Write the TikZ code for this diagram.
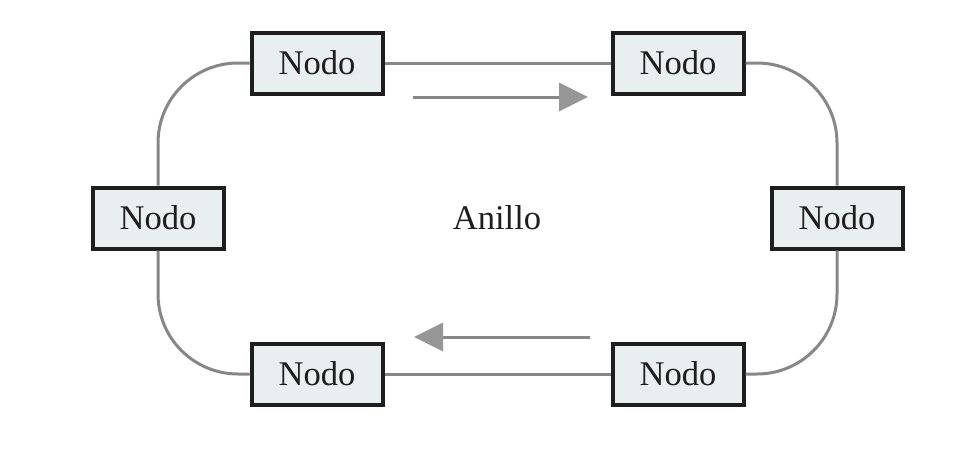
\documentclass[tikz,border=0pt]{standalone}
\usepackage{fontspec}
\setmainfont{Liberation Serif}
\usetikzlibrary{arrows.meta}
\definecolor{boxfill}{RGB}{233,238,240}
\definecolor{ringgray}{RGB}{135,135,135}
\definecolor{headgray}{RGB}{150,150,150}
\definecolor{inkblack}{RGB}{30,30,30}
\begin{document}
\begin{tikzpicture}[x=1pt,y=-1pt,
  nodebox/.style={draw=inkblack, line width=4pt, fill=boxfill,
    minimum width=131pt, minimum height=61pt, inner sep=0pt,
    text=inkblack, font=\fontsize{34.6}{40}\selectfont},
  ring/.style={draw=ringgray, line width=3pt, rounded corners=80pt},
  flow/.style={draw=ringgray, line width=3pt,
    -{Triangle[length=29pt,width=28pt,fill=headgray,color=headgray]}}]
  \useasboundingbox[fill=white] (0,0) rectangle (961,455);

  % the six stations of the ring
  \node[nodebox] (tl) at (317,63)  {Nodo};
  \node[nodebox] (tr) at (678,63)  {Nodo};
  \node[nodebox] (l)  at (158,218) {Nodo};
  \node[nodebox] (r)  at (837,218) {Nodo};
  \node[nodebox] (bl) at (317,374) {Nodo};
  \node[nodebox] (br) at (678,374) {Nodo};

  % ring links
  \draw[ring] (tl.east) -- (tr.west);
  \draw[ring] (tr.east) -| (r.north);
  \draw[ring] (r.south) |- (br.east);
  \draw[ring] (br.west) -- (bl.east);
  \draw[ring] (bl.west) -| (l.south);
  \draw[ring] (l.north) |- (tl.west);

  % direction of circulation
  \coordinate (topfrom) at (413,97);
  \coordinate (topto)   at (588,97);
  \coordinate (botfrom) at (590,337);
  \coordinate (botto)   at (414,337);
  \draw[flow] (topfrom) -- (topto);
  \draw[flow] (botfrom) -- (botto);

  \node[text=inkblack, font=\fontsize{34.6}{40}\selectfont] (ringname) at (497,218) {Anillo};
\end{tikzpicture}
\end{document}
